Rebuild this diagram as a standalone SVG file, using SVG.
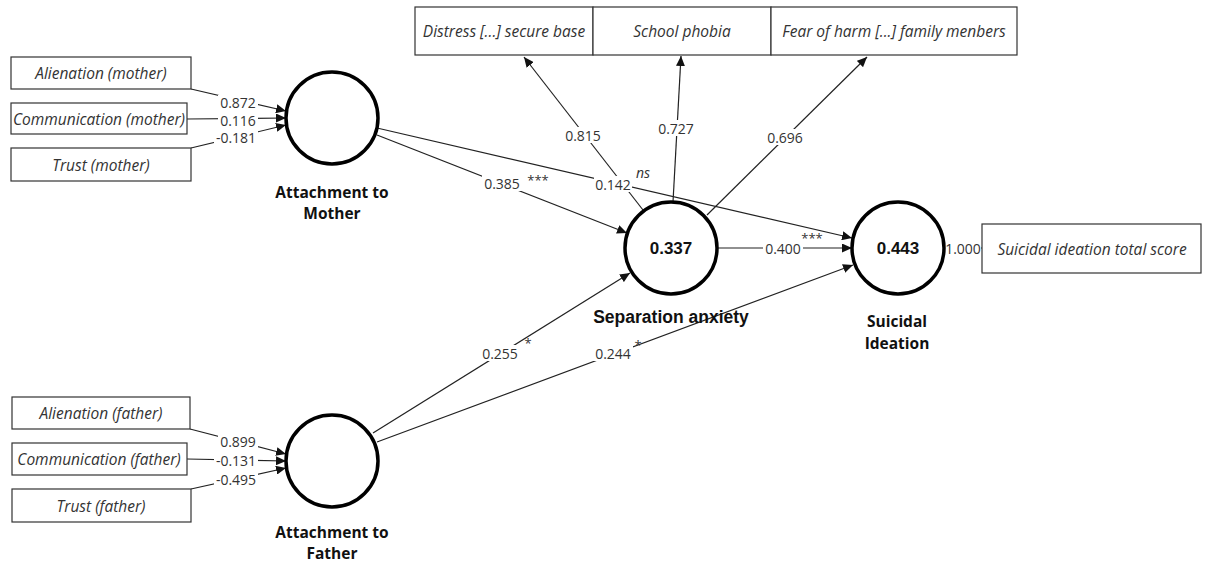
<svg xmlns="http://www.w3.org/2000/svg" width="1206" height="564" viewBox="0 0 1206 564">
<defs>
<marker id="arr" markerUnits="userSpaceOnUse" markerWidth="11" markerHeight="9" refX="10" refY="4.5" orient="auto">
<path d="M0,0 L10,4.5 L0,9 z" fill="#111"/>
</marker>
<style>
.box{fill:#fff;stroke:#333;stroke-width:1.2}
.it{font-family:"Open Sans","Noto Sans",sans-serif;font-style:italic;font-size:15.5px;fill:#333;text-anchor:middle;dominant-baseline:central}
.lv{fill:#fff;stroke:#000;stroke-width:3.5}
.lbl{font-family:"Open Sans","Noto Sans",sans-serif;font-weight:bold;font-size:15.5px;fill:#111;text-anchor:middle;dominant-baseline:central}
.big{font-family:"Liberation Sans",Arial,sans-serif;font-weight:bold;font-size:17px;fill:#111;text-anchor:middle;dominant-baseline:central}
.sa{font-family:"Liberation Sans",Arial,sans-serif;font-weight:bold;font-size:17.5px;fill:#111;text-anchor:middle;dominant-baseline:central}
.num{font-family:"Open Sans","Noto Sans",sans-serif;font-size:14px;fill:#333;text-anchor:middle;dominant-baseline:central}
.sig{font-family:"Open Sans","Noto Sans",sans-serif;font-size:13px;fill:#333;text-anchor:middle;dominant-baseline:central}
.ns{font-family:"Open Sans","Noto Sans",sans-serif;font-style:italic;font-size:14px;fill:#333;text-anchor:middle;dominant-baseline:central}
.ln{stroke:#222;stroke-width:1.2;fill:none}
.bg{fill:#fff}
</style>
</defs>
<rect width="1206" height="564" fill="#fff"/>

<g id="connectors">
<path class="ln" d="M191,89 L286,111" marker-end="url(#arr)"/>
<path class="ln" d="M187,119 L286,118" marker-end="url(#arr)"/>
<path class="ln" d="M191,148 L286,125" marker-end="url(#arr)"/>
<path class="ln" d="M190,429 L286,454" marker-end="url(#arr)"/>
<path class="ln" d="M187,459 L286,461" marker-end="url(#arr)"/>
<path class="ln" d="M191,489 L286,468" marker-end="url(#arr)"/>
<path class="ln" d="M377,135 L627,233" marker-end="url(#arr)"/>
<path class="ln" d="M377,128 L852,238" marker-end="url(#arr)"/>
<path class="ln" d="M373,433 L630,273" marker-end="url(#arr)"/>
<path class="ln" d="M377,442 L853,265" marker-end="url(#arr)"/>
<path class="ln" d="M717,248 L852,248" marker-end="url(#arr)"/>
<path class="ln" d="M643,210 L524,57" marker-end="url(#arr)"/>
<path class="ln" d="M673,202 L681,56" marker-end="url(#arr)"/>
<path class="ln" d="M707,215 L867,57" marker-end="url(#arr)"/>
<path class="ln" d="M944,248 L982,248"/>
</g>

<g id="connector-labels">
<rect class="bg" x="218" y="95" width="40" height="14"/><text class="num" x="238" y="102">0.872</text>
<rect class="bg" x="218" y="113" width="40" height="14"/><text class="num" x="238" y="120">0.116</text>
<rect class="bg" x="214" y="130" width="44" height="14"/><text class="num" x="236" y="137">-0.181</text>
<rect class="bg" x="218" y="434" width="40" height="14"/><text class="num" x="238" y="441">0.899</text>
<rect class="bg" x="214" y="453" width="44" height="14"/><text class="num" x="236" y="460">-0.131</text>
<rect class="bg" x="214" y="472" width="44" height="14"/><text class="num" x="236" y="479">-0.495</text>
<rect class="bg" x="482" y="175" width="40" height="16"/><text class="num" x="502" y="183">0.385</text>
<text class="sig" x="538" y="180">***</text>
<rect class="bg" x="594" y="176" width="38" height="16"/><text class="num" x="613" y="184">0.142</text>
<text class="ns" x="643" y="172">ns</text>
<rect class="bg" x="763" y="240" width="40" height="16"/><text class="num" x="783" y="248">0.400</text>
<text class="sig" x="812" y="238">***</text>
<rect class="bg" x="480" y="345" width="40" height="16"/><text class="num" x="500" y="353">0.255</text>
<text class="sig" x="528" y="343">*</text>
<rect class="bg" x="593" y="345" width="40" height="16"/><text class="num" x="613" y="353">0.244</text>
<text class="sig" x="638" y="345">*</text>
<rect class="bg" x="563" y="127" width="40" height="16"/><text class="num" x="583" y="135">0.815</text>
<rect class="bg" x="656" y="120" width="40" height="16"/><text class="num" x="676" y="128">0.727</text>
<rect class="bg" x="765" y="129" width="40" height="16"/><text class="num" x="785" y="137">0.696</text>
<rect class="bg" x="945" y="240" width="36" height="16"/><text class="num" x="963" y="248">1.000</text>
</g>

<g id="alienation-mother"><rect class="box" x="11" y="57" width="180" height="32"/><text class="it" x="101" y="73">Alienation (mother)</text></g>
<g id="communication-mother"><rect class="box" x="11" y="103" width="176" height="31"/><text class="it" x="99" y="119">Communication (mother)</text></g>
<g id="trust-mother"><rect class="box" x="11" y="148" width="180" height="33"/><text class="it" x="101" y="165">Trust (mother)</text></g>
<g id="alienation-father"><rect class="box" x="12" y="397" width="178" height="32"/><text class="it" x="101" y="413">Alienation (father)</text></g>
<g id="communication-father"><rect class="box" x="12" y="443" width="175" height="32"/><text class="it" x="99" y="459">Communication (father)</text></g>
<g id="trust-father"><rect class="box" x="12" y="489" width="179" height="33"/><text class="it" x="101" y="506">Trust (father)</text></g>

<g id="distress"><rect class="box" x="415" y="7" width="178" height="48"/><text class="it" x="504" y="31">Distress [...] secure base</text></g>
<g id="school-phobia"><rect class="box" x="593" y="7" width="178" height="48"/><text class="it" x="682" y="31">School phobia</text></g>
<g id="fear-of-harm"><rect class="box" x="771" y="7" width="246" height="48"/><text class="it" x="894" y="31">Fear of harm [...] family menbers</text></g>
<g id="suicidal-score"><rect class="box" x="982" y="224" width="219" height="49"/><text class="it" x="1092" y="249">Suicidal ideation total score</text></g>

<g id="attachment-mother"><circle class="lv" cx="332" cy="118" r="46"/><text class="lbl" x="332" y="192">Attachment to</text><text class="lbl" x="332" y="213">Mother</text></g>
<g id="attachment-father"><circle class="lv" cx="332" cy="461" r="46"/><text class="lbl" x="332" y="532">Attachment to</text><text class="lbl" x="332" y="553">Father</text></g>
<g id="separation-anxiety"><circle class="lv" cx="671" cy="248" r="46"/><text class="big" x="671" y="248">0.337</text><text class="sa" x="671" y="317">Separation anxiety</text></g>
<g id="suicidal-ideation"><circle class="lv" cx="898" cy="248" r="46"/><text class="big" x="898" y="248">0.443</text><text class="lbl" x="897" y="321">Suicidal</text><text class="lbl" x="897" y="343">Ideation</text></g>
</svg>
